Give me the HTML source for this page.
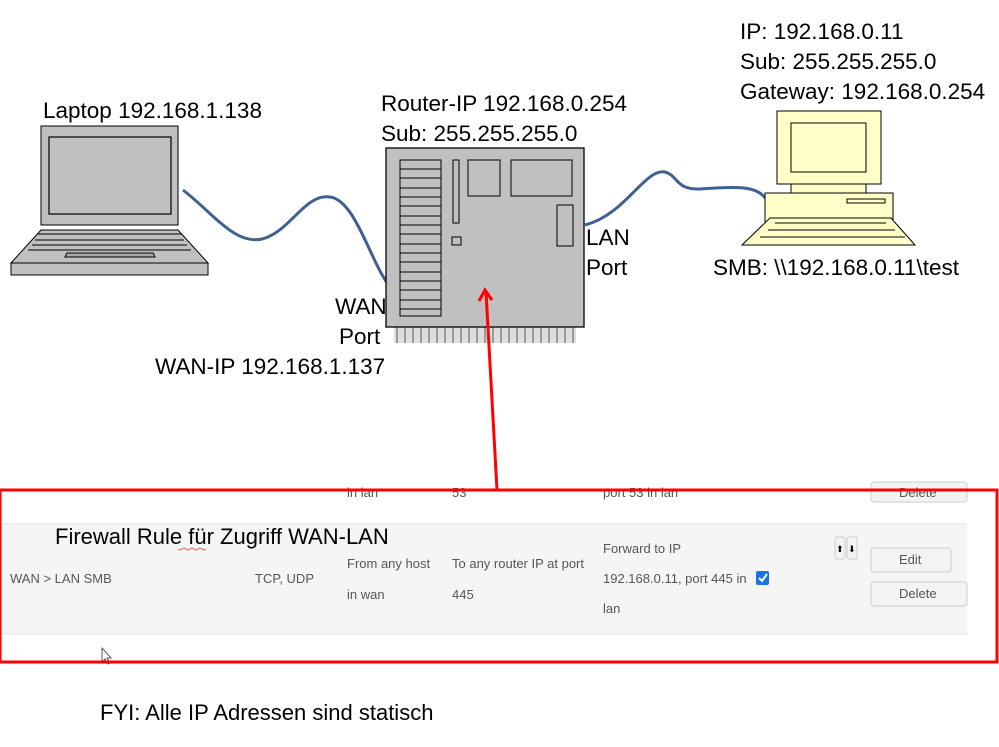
<!DOCTYPE html>
<html><head><style>
body{margin:0;background:#fff;}
svg{display:block}
.t{font-family:"Liberation Sans",sans-serif;font-size:22.5px;fill:#000}
.s{font-family:"Liberation Sans",sans-serif;font-size:13px;fill:#555}
</style></head><body>
<svg width="999" height="747" viewBox="0 0 999 747" xmlns="http://www.w3.org/2000/svg">
<rect x="0" y="524" width="967" height="110" fill="#f5f5f5"/>
<line x1="0" y1="524" x2="967" y2="524" stroke="#e4e4e4"/>
<line x1="0" y1="634" x2="967" y2="634" stroke="#e4e4e4"/>
<text class="s" x="347" y="497">in lan</text>
<text class="s" x="452" y="497">53</text>
<text class="s" x="603" y="497">port 53 in lan</text>
<rect x="871" y="482" width="96" height="20" rx="3" fill="#f3f3f3" stroke="#ccc"/>
<text class="s" x="899" y="497">Delete</text>
<text x="55" y="544" style="font-family:'Liberation Sans',sans-serif;font-size:22px">Firewall Rule für Zugriff WAN-LAN</text>
<path d="M178 549 q2 2 4 0 t4 0 t4 0 t4 0 t4 0 t4 0 t4 0" stroke="#c33" fill="none" stroke-width="0.8"/>
<text class="s" x="10" y="583">WAN &gt; LAN SMB</text>
<text class="s" x="255" y="583">TCP, UDP</text>
<text class="s" x="347" y="568">From any host</text>
<text class="s" x="347" y="599">in wan</text>
<text class="s" x="452" y="568">To any router IP at port</text>
<text class="s" x="452" y="599">445</text>
<text class="s" x="603" y="553">Forward to IP</text>
<text class="s" x="603" y="583">192.168.0.11, port 445 in</text>
<text class="s" x="603" y="613">lan</text>
<rect x="756" y="571" width="13" height="14" rx="2" fill="#1a73e8"/>
<path d="M759 578 l3 3 l5 -7" stroke="#fff" stroke-width="2" fill="none"/>
<rect x="835" y="537" width="10" height="22" rx="2" fill="#f3f3f3" stroke="#ccc"/>
<rect x="847" y="537" width="10" height="22" rx="2" fill="#f3f3f3" stroke="#ccc"/>
<text x="836" y="552" style="font-size:9px;font-family:'DejaVu Sans',sans-serif">⬆</text>
<text x="848" y="552" style="font-size:9px;font-family:'DejaVu Sans',sans-serif">⬇</text>
<rect x="871" y="548" width="80" height="24" rx="3" fill="#f3f3f3" stroke="#ccc"/>
<text class="s" x="899" y="564">Edit</text>
<rect x="871" y="582" width="96" height="24" rx="3" fill="#f3f3f3" stroke="#ccc"/>
<text class="s" x="899" y="598">Delete</text>
<path d="M102 648 v14 l3 -3 l3 5 l2 -1 l-3 -5 h4 Z" stroke="#333" fill="#fff" stroke-width="0.8"/>
<rect x="0" y="490" width="997" height="172" fill="none" stroke="#f00" stroke-width="3"/>
<text class="t" x="100" y="720" style="font-size:22px">FYI: Alle IP Adressen sind statisch</text>

<rect x="41" y="126" width="137" height="99" fill="#c0c0c0" stroke="#000"/>
<rect x="49" y="137" width="122" height="77" fill="#c0c0c0" stroke="#000" stroke-width="1.2"/>
<path d="M41 230 H178 L208 263 H11 Z" fill="#c0c0c0" stroke="#000"/>
<rect x="11" y="263" width="197" height="12" fill="#c0c0c0" stroke="#000"/>
<path d="M38 234 H181 M35 240 H184 M32 245 H187 M28 250 H191" stroke="#000"/>
<path d="M67 253 H153 L155 257 H65 Z" fill="#aaa" stroke="#000"/>
<text class="t" x="43" y="118">Laptop 192.168.1.138</text>

<path d="M183 190 C215 215 235 245 262 239 C290 232 305 193 330 197 C355 200 370 260 388 284" stroke="#3f6190" stroke-width="3" fill="none"/>
<path d="M585 225 C625 215 645 168 665 172 C678 175 675 190 700 189 C740 186 757 186 767 200" stroke="#3f6190" stroke-width="3" fill="none"/>

<rect x="394" y="327" width="182" height="16" fill="#c8c8c8" opacity="0.6"/>
<g stroke="#555">
<path d="M397 327 V343 M405 327 V343 M413 327 V343 M421 327 V343 M429 327 V343 M437 327 V343 M445 327 V343 M453 327 V343 M461 327 V343 M469 327 V343 M477 327 V343 M485 327 V343 M493 327 V343 M501 327 V343 M509 327 V343 M517 327 V343 M525 327 V343 M533 327 V343 M541 327 V343 M549 327 V343 M557 327 V343 M565 327 V343 M573 327 V343"/>
</g>
<rect x="386" y="148" width="198" height="179" fill="#c0c0c0" stroke="#000" stroke-width="1.3"/>
<rect x="400" y="160" width="41" height="156" fill="#c0c0c0" stroke="#000"/>
<path d="M400 169 H441 M400 178 H441 M400 188 H441 M400 197 H441 M400 206 H441 M400 216 H441 M400 225 H441 M400 234 H441 M400 244 H441 M400 253 H441 M400 262 H441 M400 272 H441 M400 281 H441 M400 290 H441 M400 300 H441 M400 309 H441" stroke="#000"/>
<rect x="453" y="160" width="6" height="63" fill="none" stroke="#000"/>
<rect x="452" y="237" width="9" height="8" fill="none" stroke="#000"/>
<rect x="468" y="160" width="32" height="36" fill="none" stroke="#000"/>
<rect x="511" y="160" width="61" height="36" fill="none" stroke="#000"/>
<rect x="557" y="205" width="16" height="41" fill="none" stroke="#000"/>
<text class="t" x="381" y="111">Router-IP 192.168.0.254</text>
<text class="t" x="381" y="141">Sub: 255.255.255.0</text>
<text class="t" x="335" y="314">WAN</text>
<text class="t" x="339" y="344">Port</text>
<text class="t" x="155" y="374">WAN-IP 192.168.1.137</text>
<text class="t" x="586" y="245">LAN</text>
<text class="t" x="586" y="275">Port</text>

<line x1="497" y1="490" x2="486" y2="292" stroke="#f00" stroke-width="3"/>
<path d="M479 301 L485 290 L492 300" stroke="#f00" stroke-width="3" fill="none"/>

<rect x="777" y="111" width="104" height="73" fill="#ffffc8" stroke="#000"/>
<rect x="791" y="123" width="75" height="49" fill="#ffffc8" stroke="#000"/>
<rect x="791" y="184" width="75" height="9" fill="#ffffc8" stroke="#000"/>
<rect x="765" y="193" width="128" height="35" fill="#ffffc8" stroke="#000"/>
<rect x="847" y="199" width="38" height="4" fill="#ffffc8" stroke="#000"/>
<path d="M770 218 H891 L915 245 H742 Z" fill="#ffffc8" stroke="#000"/>
<path d="M775 223 H886 M768 230 H895 M760 237 H905" stroke="#000"/>
<text class="t" x="740" y="39">IP: 192.168.0.11</text>
<text class="t" x="740" y="69">Sub: 255.255.255.0</text>
<text class="t" x="740" y="99">Gateway: 192.168.0.254</text>
<text class="t" x="713" y="275">SMB: \\192.168.0.11\test</text>
</svg>
</body></html>
